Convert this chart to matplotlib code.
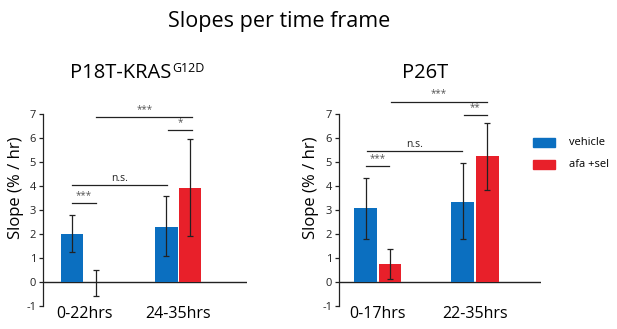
import matplotlib
matplotlib.use("Agg")
import matplotlib.pyplot as plt
import numpy as np

plt.rcParams['font.family'] = ['Open Sans', 'DejaVu Sans']

# ---- data ----
panel_left = "P18T-KRAS"
panel_left_sup = "G12D"
panel_right = "P26T"
groups_left = ["0-22hrs", "24-35hrs"]
groups_right = ["0-17hrs", "22-35hrs"]
series = ["vehicle", "afa +sel"]

left_vehicle = [2.0, 2.3]
left_vehicle_lo = [1.25, 1.1]
left_vehicle_hi = [2.8, 3.57]
left_afa = [-0.02, 3.93]
left_afa_lo = [-0.57, 1.92]
left_afa_hi = [0.5, 5.97]

right_vehicle = [3.07, 3.33]
right_vehicle_lo = [1.78, 1.78]
right_vehicle_hi = [4.33, 4.94]
right_afa = [0.74, 5.24]
right_afa_lo = [0.11, 3.83]
right_afa_hi = [1.36, 6.64]

yticks = [-1, 0, 1, 2, 3, 4, 5, 6, 7]

# significance brackets: (x1, x2, y, label) with x in group units
left_sig = [(-0.13, 0.13, 3.28, "***"), (-0.13, 0.88, 4.03, "n.s."),
            (0.89, 1.15, 6.33, "*"), (0.13, 1.15, 6.86, "***")]
right_sig = [(-0.12, 0.12, 4.83, "***"), (-0.11, 0.87, 5.47, "n.s."),
             (0.89, 1.12, 6.94, "**"), (0.14, 1.12, 7.5, "***")]

BLUE = "#0b6fc0"
RED = "#e8202a"

W, H = 617, 329
fig = plt.figure(figsize=(W / 100, H / 100), dpi=100)
fig.patch.set_facecolor("white")


def px_axes(x0, x1, y_top, y_bot):
    return fig.add_axes([x0 / W, (H - y_bot) / H, (x1 - x0) / W, (y_bot - y_top) / H])


def draw_panel(ax, groups, veh, veh_lo, veh_hi, afa, afa_lo, afa_hi, sig, xlim, ylab_x):
    x = np.arange(len(groups))
    bw = 0.235
    off = 0.125
    xv = x - off
    xa = x + off
    ax.bar(xv, veh, width=bw, color=BLUE, zorder=2)
    ax.bar(xa, afa, width=bw, color=RED, zorder=2)
    veh = np.array(veh); afa = np.array(afa)
    ax.errorbar(xv, veh, yerr=[veh - np.array(veh_lo), np.array(veh_hi) - veh],
                fmt="none", ecolor="#222222", elinewidth=0.9, capsize=2.3, capthick=0.9, zorder=3)
    ax.errorbar(xa, afa, yerr=[afa - np.array(afa_lo), np.array(afa_hi) - afa],
                fmt="none", ecolor="#222222", elinewidth=0.9, capsize=2.3, capthick=0.9, zorder=3)
    ax.axhline(0, color="#222222", lw=1.0, zorder=1)
    ax.set_xlim(*xlim)
    ax.set_ylim(-1, 7)
    ax.set_yticks(yticks)
    ax.set_yticklabels([str(t) for t in yticks], fontsize=8)
    ax.tick_params(axis="y", length=3, width=0.9, pad=2, colors="#222222")
    ax.set_xticks(x)
    ax.set_xticklabels(groups, fontsize=11.5, va="baseline")
    ax.tick_params(axis="x", length=0, pad=8.6)
    for s in ["top", "right", "bottom"]:
        ax.spines[s].set_visible(False)
    ax.spines["left"].set_linewidth(0.9)
    ax.spines["left"].set_color("#222222")
    ax.set_ylabel("Slope (% / hr)", fontsize=12)
    ax.yaxis.set_label_coords(ylab_x, 0.615)
    ax.patch.set_alpha(0)
    for x1, x2, y, lab in sig:
        ax.plot([x1, x2], [y, y], color="#222222", lw=0.9, clip_on=False)
        if lab == "n.s.":
            ax.text((x1 + x2) / 2, y + 0.04, lab, ha="center", va="bottom",
                    fontsize=7.5, color="#222222", clip_on=False)
        else:
            ax.text((x1 + x2) / 2, y + 0.1, lab, ha="center", va="bottom",
                    fontsize=7, color="#555555", clip_on=False)


axL = px_axes(43, 247, 114, 306)
draw_panel(axL, groups_left, left_vehicle, left_vehicle_lo, left_vehicle_hi,
           left_afa, left_afa_lo, left_afa_hi, left_sig, (-0.436, 1.73), -0.093)

axR = px_axes(339, 541, 114, 306)
draw_panel(axR, groups_right, right_vehicle, right_vehicle_lo, right_vehicle_hi,
           right_afa, right_afa_lo, right_afa_hi, right_sig, (-0.40, 1.68), -0.099)

# titles
fig.text(279 / W, 1 - 27 / H, "Slopes per time frame", ha="center", va="baseline", fontsize=15.5)
t = fig.text(70 / W, 1 - 78 / H, panel_left, ha="left", va="baseline", fontsize=14.5)
fig.canvas.draw()
sup = fig.text(0, 0, panel_left_sup, fontsize=9, ha="left", va="top")
bb = t.get_window_extent()
sup.set_position(((bb.x1 + 0.5) / W, 1 - 62 / H))
fig.text(425 / W, 1 - 78 / H, panel_right, ha="center", va="baseline", fontsize=14.5)

# legend
for i, (lab, col) in enumerate(zip(series, [BLUE, RED])):
    ytop = 138 + i * 22
    fig.patches.append(plt.Rectangle((533 / W, 1 - (ytop + 9) / H), 22 / W, 9 / H,
                                     transform=fig.transFigure, color=col, figure=fig))
    fig.text(569 / W, 1 - (ytop + 4.5) / H, lab, ha="left", va="center", fontsize=8)

fig.savefig("out.png", dpi=100)
